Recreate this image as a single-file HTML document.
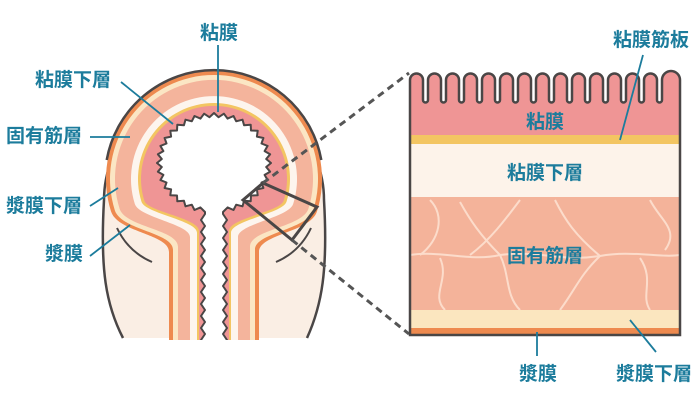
<!DOCTYPE html>
<html><head><meta charset="utf-8"><style>
html,body{margin:0;padding:0;background:#fff;}
svg{display:block;}
text{font-family:"Liberation Sans","Noto Sans CJK JP",sans-serif;font-weight:bold;fill:#1c7c9c;}
</style></head><body>
<svg width="700" height="400" viewBox="0 0 700 400" xmlns="http://www.w3.org/2000/svg">
<!-- bulb -->
<path d="M123,338 C106,305 100,270 104,200 A110,110 0 0 1 324,200 C328,270 322,305 307,338" fill="#faeee4" stroke="#4a4646" stroke-width="2.5"/>
<path d="M117,228 C125,245 138,256 152,262" fill="none" stroke="#4a4646" stroke-width="2"/>
<path d="M311,228 C303,245 290,256 276,262" fill="none" stroke="#4a4646" stroke-width="2"/>
<!-- ring layers -->
<path d="M169,340 L169,252 C169,234 117.6,232.4 111,211.4 A108,108 0 1 1 317,211.4 C310.4,232.4 259,234 259,252 L259,340 Z" fill="#ee8a4f"/>
<path d="M173,340 L173,249.6 C173,232.4 121,230 114.8,210.2 A104,104 0 1 1 313.2,210.2 C307,230 255,232.4 255,249.6 L255,340 Z" fill="#fbe6c4"/>
<path d="M178,340 L178,246.6 C178,229.4 125.4,227.1 119.6,208.7 A99,99 0 1 1 308.4,208.7 C302.6,227.1 250,229.4 250,246.6 L250,340 Z" fill="#f4b49c"/>
<path d="M190,340 L190,237 C190,224 139.2,217.7 134.8,203.9 A83,83 0 1 1 293.2,203.9 C288.8,217.7 238,224 238,237 L238,340 Z" fill="#fdf5ee"/>
<path d="M197,340 L197,232.8 C197,220.4 145.2,213.6 141.5,201.8 A76,76 0 1 1 286.5,201.8 C282.8,213.6 231,220.4 231,232.8 L231,340 Z" fill="#f3c562"/>
<path d="M199,340 L199,231 C199,218 147.9,211.9 144.4,200.9 A73,73 0 1 1 283.6,200.9 C280.1,211.9 229,218 229,231 L229,340 Z" fill="#ef9595"/>
<path d="M106.7,160 A109,109 0 0 1 321.3,160" fill="none" stroke="#4a4646" stroke-width="2.5"/>
<!-- lumen -->
<polygon fill="#fff" stroke="#4a4646" stroke-width="2" stroke-linejoin="round" points="271,163 266.2,159 270.1,154.3 264.6,151.1 267.6,145.9 261.5,143.5 263.4,138 256.9,136.6 257.7,130.8 251,130.5 250.7,124.7 244.1,125.3 242.5,119.7 236.2,121.3 233.5,116 227.6,118.6 223.9,113.7 218.6,117.2 214,113 209.4,117.2 204.1,113.7 200.4,118.6 194.5,116 191.8,121.3 185.5,119.7 183.9,125.3 177.3,124.7 177,130.5 170.3,130.8 171.1,136.6 164.6,138 166.5,143.5 160.4,145.9 163.4,151.1 157.9,154.3 161.8,159 157,163 161.8,167 157.9,171.7 163.4,174.9 160.4,180.1 166.5,182.5 164.6,188 171.1,189.4 170.3,195.2 177,195.5 177.3,201.3 183.9,200.7 185.5,206.3 191.8,204.7 194.5,210 200.4,207.4 205,212 205,214 201,220 205,226 201,232 205,238 201,244 205,250 201,256 205,262 201,268 205,274 201,280 205,286 201,292 205,298 201,304 205,310 201,316 205,322 201,328 205,334 201,340 201,346 227,346 227,340 223,334 227,328 223,322 227,316 223,310 227,304 223,298 227,292 223,286 227,280 223,274 227,268 223,262 227,256 223,250 227,244 223,238 227,232 223,226 227,220 223,214 223,212 227.6,207.4 233.5,210 236.2,204.7 242.5,206.3 244.1,200.7 250.7,201.3 251,195.5 257.7,195.2 256.9,189.4 263.4,188 261.5,182.5 267.6,180.1 264.6,174.9 270.1,171.7 266.2,167"/>
<rect x="100" y="340" width="240" height="12" fill="#fff"/>
<!-- box + dashed -->
<path d="M243,200 L263,183 L317,207 L292,240 Z" fill="none" stroke="#4a4646" stroke-width="3"/>
<line x1="263" y1="183" x2="409" y2="73" stroke="#555" stroke-width="3" stroke-dasharray="7 5"/>
<line x1="292" y1="240" x2="409" y2="334" stroke="#555" stroke-width="3" stroke-dasharray="7 5"/>
<!-- right panel -->
<path d="M410,136 L410,80 A6.5,6.5 0 0 1 423,80 L423,100 A2.5,2.5 0 0 0 428,100 L428,80 A6.5,6.5 0 0 1 441,80 L441,100 A2.5,2.5 0 0 0 446,100 L446,80 A6.5,6.5 0 0 1 459,80 L459,100 A2.5,2.5 0 0 0 464,100 L464,80 A6.5,6.5 0 0 1 477,80 L477,100 A2.5,2.5 0 0 0 482,100 L482,80 A6.5,6.5 0 0 1 495,80 L495,100 A2.5,2.5 0 0 0 500,100 L500,80 A6.5,6.5 0 0 1 513,80 L513,100 A2.5,2.5 0 0 0 518,100 L518,80 A6.5,6.5 0 0 1 531,80 L531,100 A2.5,2.5 0 0 0 536,100 L536,80 A6.5,6.5 0 0 1 549,80 L549,100 A2.5,2.5 0 0 0 554,100 L554,80 A6.5,6.5 0 0 1 567,80 L567,100 A2.5,2.5 0 0 0 572,100 L572,80 A6.5,6.5 0 0 1 585,80 L585,100 A2.5,2.5 0 0 0 590,100 L590,80 A6.5,6.5 0 0 1 603,80 L603,100 A2.5,2.5 0 0 0 608,100 L608,80 A6.5,6.5 0 0 1 621,80 L621,100 A2.5,2.5 0 0 0 626,100 L626,80 A6.5,6.5 0 0 1 639,80 L639,100 A2.5,2.5 0 0 0 644,100 L644,80 A6.5,6.5 0 0 1 657,80 L657,100 A2.5,2.5 0 0 0 662,100 L662,80 A9,9 0 0 1 680,80 L680,136 Z" fill="#ef9595"/>
<rect x="410" y="135" width="270" height="9" fill="#f3c562"/>
<rect x="410" y="144" width="270" height="53" fill="#fdf3ea"/>
<rect x="410" y="197" width="270" height="113" fill="#f4b39a"/>
<g fill="none" stroke="#fcdccb" stroke-width="2">
<path d="M410,255 C440,250 470,262 500,255 C540,250 560,262 600,256 C630,250 660,258 680,255"/>
<path d="M430,200 C445,215 440,240 420,255"/>
<path d="M520,200 C505,220 490,240 470,255"/>
<path d="M555,200 C565,220 575,235 600,256"/>
<path d="M650,200 C660,220 680,230 665,250"/>
<path d="M440,258 C450,280 430,295 445,310"/>
<path d="M500,255 C510,275 505,295 520,310"/>
<path d="M600,256 C580,275 575,290 560,310"/>
<path d="M640,258 C655,280 640,295 650,310"/>
<path d="M460,202 C470,220 480,235 500,255"/>
</g>
<rect x="410" y="310" width="270" height="18" fill="#fbe6bf"/>
<rect x="410" y="328" width="270" height="7" fill="#ee8a4f"/>
<path d="M410,335 L410,80 A6.5,6.5 0 0 1 423,80 L423,100 A2.5,2.5 0 0 0 428,100 L428,80 A6.5,6.5 0 0 1 441,80 L441,100 A2.5,2.5 0 0 0 446,100 L446,80 A6.5,6.5 0 0 1 459,80 L459,100 A2.5,2.5 0 0 0 464,100 L464,80 A6.5,6.5 0 0 1 477,80 L477,100 A2.5,2.5 0 0 0 482,100 L482,80 A6.5,6.5 0 0 1 495,80 L495,100 A2.5,2.5 0 0 0 500,100 L500,80 A6.5,6.5 0 0 1 513,80 L513,100 A2.5,2.5 0 0 0 518,100 L518,80 A6.5,6.5 0 0 1 531,80 L531,100 A2.5,2.5 0 0 0 536,100 L536,80 A6.5,6.5 0 0 1 549,80 L549,100 A2.5,2.5 0 0 0 554,100 L554,80 A6.5,6.5 0 0 1 567,80 L567,100 A2.5,2.5 0 0 0 572,100 L572,80 A6.5,6.5 0 0 1 585,80 L585,100 A2.5,2.5 0 0 0 590,100 L590,80 A6.5,6.5 0 0 1 603,80 L603,100 A2.5,2.5 0 0 0 608,100 L608,80 A6.5,6.5 0 0 1 621,80 L621,100 A2.5,2.5 0 0 0 626,100 L626,80 A6.5,6.5 0 0 1 639,80 L639,100 A2.5,2.5 0 0 0 644,100 L644,80 A6.5,6.5 0 0 1 657,80 L657,100 A2.5,2.5 0 0 0 662,100 L662,80 A9,9 0 0 1 680,80 L680,335 Z" fill="none" stroke="#4a4646" stroke-width="2.5"/>
<!-- leader lines -->
<g stroke="#1c7c9c" stroke-width="1.8" fill="none">
<line x1="218" y1="45" x2="218" y2="112"/>
<line x1="121" y1="82" x2="173" y2="124"/>
<line x1="90" y1="137" x2="130" y2="137"/>
<line x1="90" y1="206" x2="118" y2="188"/>
<line x1="90" y1="256" x2="130" y2="225"/>
<line x1="643" y1="55" x2="620" y2="140"/>
<line x1="537" y1="332" x2="537" y2="356"/>
<line x1="630" y1="320" x2="656" y2="352"/>
</g>
<!-- labels -->
<text x="219" y="39" font-size="19" text-anchor="middle">粘膜</text>
<text x="73" y="86" font-size="19" text-anchor="middle">粘膜下層</text>
<text x="44" y="142" font-size="19" text-anchor="middle">固有筋層</text>
<text x="44" y="212" font-size="19" text-anchor="middle">漿膜下層</text>
<text x="64" y="260" font-size="19" text-anchor="middle">漿膜</text>
<text x="651" y="46" font-size="19" text-anchor="middle">粘膜筋板</text>
<text x="545" y="128" font-size="19" text-anchor="middle">粘膜</text>
<text x="545" y="179" font-size="19" text-anchor="middle">粘膜下層</text>
<text x="545" y="262" font-size="19" text-anchor="middle">固有筋層</text>
<text x="538" y="380" font-size="19" text-anchor="middle">漿膜</text>
<text x="654" y="380" font-size="19" text-anchor="middle">漿膜下層</text>
</svg>
</body></html>
